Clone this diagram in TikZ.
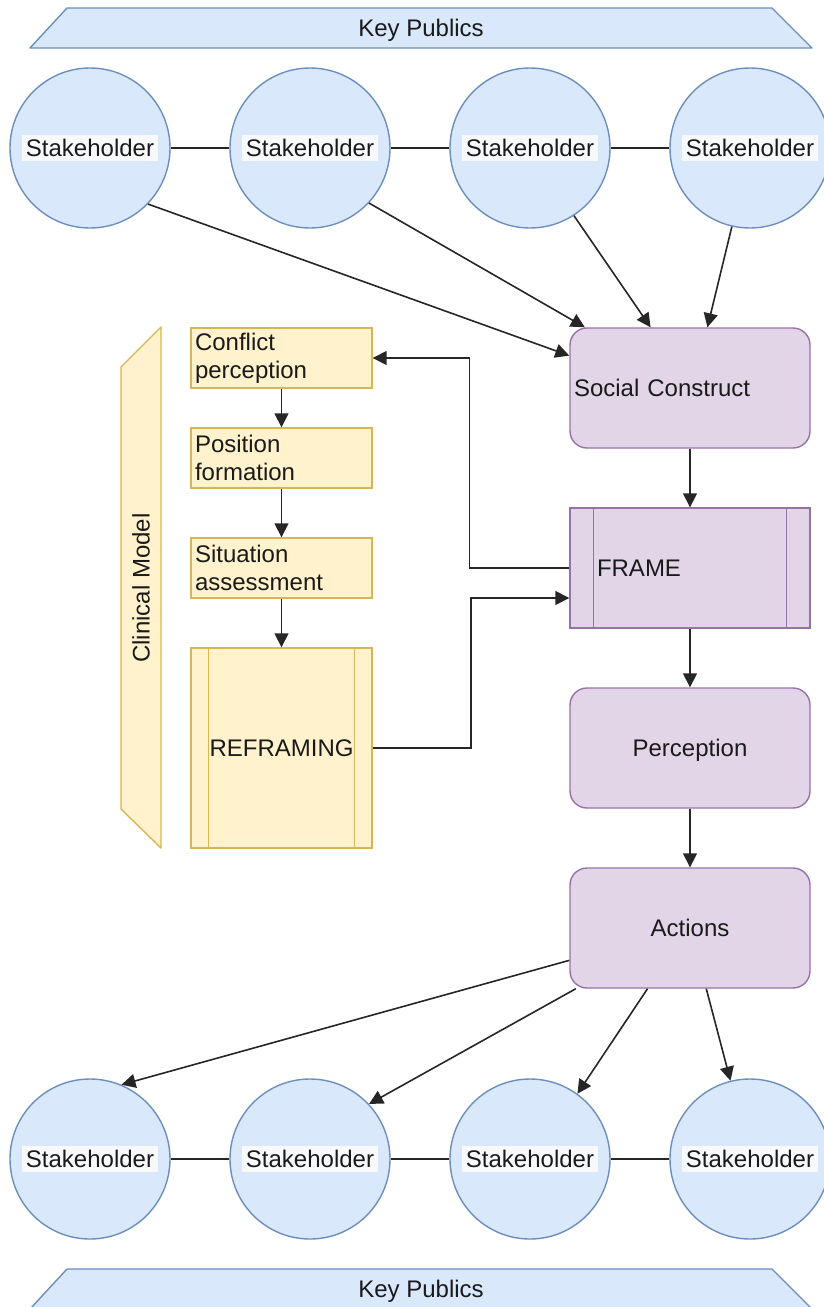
\documentclass[tikz,border=0pt]{standalone}
\usepackage{fontspec}
\setmainfont{Liberation Sans}
\usetikzlibrary{arrows.meta,calc}
\definecolor{blueFill}{HTML}{DAE8FC}
\definecolor{blueLine}{HTML}{6C8EBF}
\definecolor{yelFill}{HTML}{FFF2CC}
\definecolor{yelLine}{HTML}{D6B656}
\definecolor{purFill}{HTML}{E1D5E7}
\definecolor{purLine}{HTML}{9673A6}
\definecolor{lblBg}{HTML}{F8F9FA}
\definecolor{ink}{HTML}{1A1A1A}
\begin{document}
\begin{tikzpicture}[x=1pt,y=-1pt,
  every node/.style={font=\fontsize{24}{28}\selectfont, text=ink},
  stake/.style={circle, draw=blueLine, fill=blueFill, line width=1.4pt, minimum size=160pt, inner sep=0pt},
  stakelbl/.style={fill=lblBg, inner xsep=4pt, inner ysep=4pt},
  pubshape/.style={draw=blueLine, fill=blueFill, line width=1.4pt, line join=round},
  purbox/.style={draw=purLine, fill=purFill, line width=1.4pt, rounded corners=17pt, minimum width=240pt, minimum height=120pt},
  framebox/.style={draw=purLine, fill=purFill, line width=1.4pt, minimum width=240pt, minimum height=120pt, text width=186pt, inner xsep=27pt, align=left},
  yelbox/.style={draw=yelLine, fill=yelFill, line width=1.4pt, minimum width=181pt, minimum height=60pt, text width=173pt, inner xsep=4pt, inner ysep=0pt, align=left},
  yelline/.style={draw=yelLine, line width=1.4pt},
  purline/.style={draw=purLine, line width=1.4pt},
  link/.style={draw=black!85, line width=1.6pt},
  arr/.style={link, -{Triangle[length=14pt,width=14pt]}}
]
\useasboundingbox (0,0) rectangle (824,1307);

% key publics bands
\filldraw[pubshape] (30,48) -- (67,8) -- (772,8) -- (812,48) -- cycle;
\node[text depth=0pt] (kptop) at (421,28) {Key Publics};
\filldraw[pubshape] (30,1309) -- (67,1269) -- (772,1269) -- (812,1309) -- cycle;
\node[text depth=0pt] (kpbot) at (421,1289) {Key Publics};

% stakeholders, upper row
\foreach \n/\x in {1/90,2/310,3/530,4/750}{
  \node[stake] (t\n) at (\x,148) {};
  \node[stakelbl] (t\n l) at (t\n) {Stakeholder};
}
% stakeholders, lower row
\foreach \n/\x in {1/90,2/310,3/530,4/750}{
  \node[stake] (b\n) at (\x,1159) {};
  \node[stakelbl] (b\n l) at (b\n) {Stakeholder};
}
\draw[link] (t1) -- (t2); \draw[link] (t2) -- (t3); \draw[link] (t3) -- (t4);
\draw[link] (b1) -- (b2); \draw[link] (b2) -- (b3); \draw[link] (b3) -- (b4);

% main chain
\node[purbox, text width=232pt, inner xsep=4pt, align=left] (sc) at (690,388) {Social Construct};
\node[framebox] (frame) at (690,568) {FRAME};
\draw[purline] ([xshift=24pt]frame.north west) -- ([xshift=24pt]frame.south west);
\draw[purline] ([xshift=-24pt]frame.north east) -- ([xshift=-24pt]frame.south east);
\node[purbox, text depth=0pt] (perc) at (690,748) {Perception};
\node[purbox] (act) at (690,928) {Actions};

\draw[arr] (sc.south) -- (frame.north);
\draw[arr] (frame.south) -- (perc.north);
\draw[arr] (perc.south) -- (act.north);

% clinical model
\filldraw[draw=yelLine, fill=yelFill, line width=1.4pt, line join=round]
  (121,367) -- (161,327) -- (161,848) -- (121,809) -- cycle;
\node[rotate=90] (cm) at (141,588) {Clinical Model};

\node[yelbox] (cp) at (281.5,358) {Conflict\\perception};
\node[yelbox] (pf) at (281.5,458) {Position\\formation};
\node[yelbox] (sa) at (281.5,568) {Situation\\assessment};
\node[draw=yelLine, fill=yelFill, line width=1.4pt, minimum width=181pt, minimum height=200pt] (rf) at (281.5,748) {REFRAMING};
\draw[yelline] ([xshift=18pt]rf.north west) -- ([xshift=18pt]rf.south west);
\draw[yelline] ([xshift=-18pt]rf.north east) -- ([xshift=-18pt]rf.south east);

\draw[arr] (cp.south) -- (pf.north);
\draw[arr] (pf.south) -- (sa.north);
\draw[arr] (sa.south) -- (rf.north);

% feedback loop between frame and the clinical model
\draw[arr] (frame.west) -- ++(-100,0) |- (cp.east);
\draw[arr] (rf.east) -- ++(98,0) |- ($(frame.west)+(0,30)$);

% stakeholders shape the social construct
\draw[arr] (t1.-44.5) -- (sc.165.5);
\draw[arr] (t2.-43.5) -- (sc.150.3);
\draw[arr] (t3.-57.6) -- (sc.123);
\draw[arr] (t4.-103.5) -- (sc.74.4);

% actions reach the stakeholders
\draw[arr] (act.195.8) -- (b1.67.8);
\draw[arr] (act.208.7) -- (b2.43);
\draw[arr] (act.235.9) -- (b3.54.4);
\draw[arr] (act.285.3) -- (b4.104);
\end{tikzpicture}
\end{document}
